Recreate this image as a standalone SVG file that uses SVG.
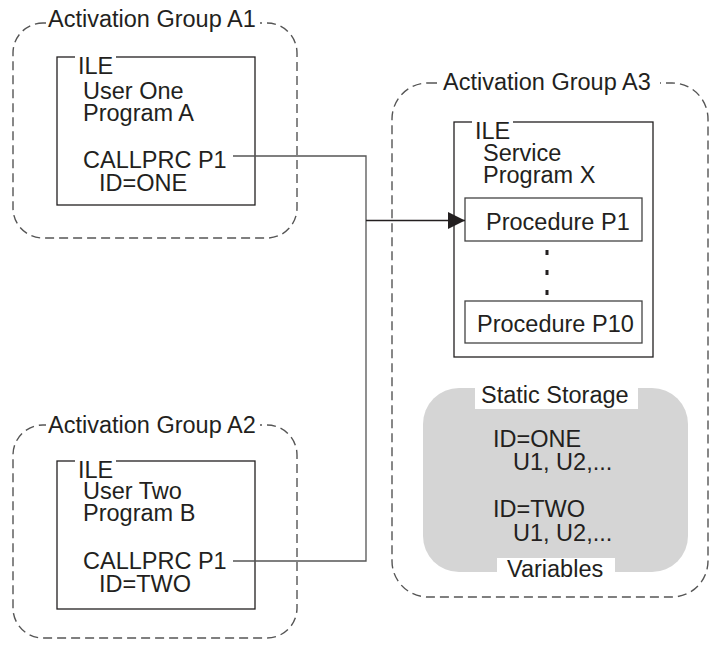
<svg xmlns="http://www.w3.org/2000/svg" width="711" height="647" viewBox="0 0 711 647">
<defs>
<style>
text{font-family:"Liberation Sans",Arial,sans-serif;font-size:23.5px;fill:#231f20}
.grp{fill:none;stroke:#555;stroke-width:1.4;stroke-dasharray:9 5}
.box{fill:#fff;stroke:#231f20;stroke-width:1.3}
.pbox{fill:#fff;stroke:#444;stroke-width:1.3}
.bg{fill:#fff;stroke:none}
.conn{fill:none;stroke:#555;stroke-width:1.3}
.arr{fill:none;stroke:#231f20;stroke-width:1.3}
</style>
<marker id="ah" viewBox="0 0 10 10" refX="10" refY="5" markerWidth="17" markerHeight="17" markerUnits="userSpaceOnUse" orient="auto">
<path d="M0,0 L10,5 L0,10 z" fill="#231f20"/>
</marker>
</defs>

<g id="groupA1">
<rect class="grp" x="13" y="23" width="284" height="215" rx="30"/>
<rect class="bg" x="46" y="10" width="214" height="24"/>
<text x="48" y="27">Activation Group A1</text>
</g>
<g id="programA">
<rect class="box" x="57" y="57" width="198" height="148"/>
<rect class="bg" x="75" y="52" width="41" height="10"/>
<text x="78" y="74">ILE</text>
<text x="83" y="99">User One</text>
<text x="83" y="121">Program A</text>
<text x="83" y="168">CALLPRC P1</text>
<text x="99" y="191">ID=ONE</text>
</g>

<g id="groupA2">
<rect class="grp" x="13" y="425" width="284" height="213" rx="30"/>
<rect class="bg" x="46" y="412" width="214" height="24"/>
<text x="48" y="433">Activation Group A2</text>
</g>
<g id="programB">
<rect class="box" x="57" y="461" width="198" height="148"/>
<rect class="bg" x="75" y="456" width="41" height="10"/>
<text x="78" y="478">ILE</text>
<text x="83" y="499">User Two</text>
<text x="83" y="521">Program B</text>
<text x="83" y="569">CALLPRC P1</text>
<text x="99" y="592">ID=TWO</text>
</g>

<g id="groupA3">
<rect class="grp" x="392" y="83" width="316" height="514" rx="36"/>
<rect class="bg" x="440" y="70" width="220" height="24"/>
<text x="443" y="90">Activation Group A3</text>
</g>
<g id="serviceProgramX">
<rect class="box" x="454" y="122" width="199" height="235"/>
<rect class="bg" x="472" y="117" width="41" height="10"/>
<text x="475" y="139">ILE</text>
<text x="483" y="161">Service</text>
<text x="483" y="183">Program X</text>
</g>
<g id="procP1">
<rect class="pbox" x="465" y="198" width="177" height="43"/>
<text x="486" y="230">Procedure P1</text>
</g>
<g id="dots">
<rect x="545.5" y="250" width="3" height="5" fill="#231f20"/>
<rect x="545.5" y="270" width="3" height="5" fill="#231f20"/>
<rect x="545.5" y="290" width="3" height="5" fill="#231f20"/>
</g>
<g id="procP10">
<rect class="pbox" x="465" y="301" width="177" height="42"/>
<text x="477" y="332">Procedure P10</text>
</g>
<g id="staticStorage">
<rect x="423" y="388" width="265" height="184" rx="36" fill="#d5d5d5"/>
<rect class="bg" x="475" y="386" width="163" height="23"/>
<text x="481" y="403">Static Storage</text>
<text x="493" y="447">ID=ONE</text>
<text x="513" y="470">U1, U2,...</text>
<text x="493" y="517">ID=TWO</text>
<text x="513" y="541">U1, U2,...</text>
<rect class="bg" x="497" y="558" width="118" height="22"/>
<text x="507" y="577">Variables</text>
</g>

<g id="connectors">
<polyline class="conn" points="233,156 366,156 366,561 233,561"/>
<line class="arr" x1="366" y1="220.5" x2="465" y2="220.5" marker-end="url(#ah)"/>
</g>
</svg>
